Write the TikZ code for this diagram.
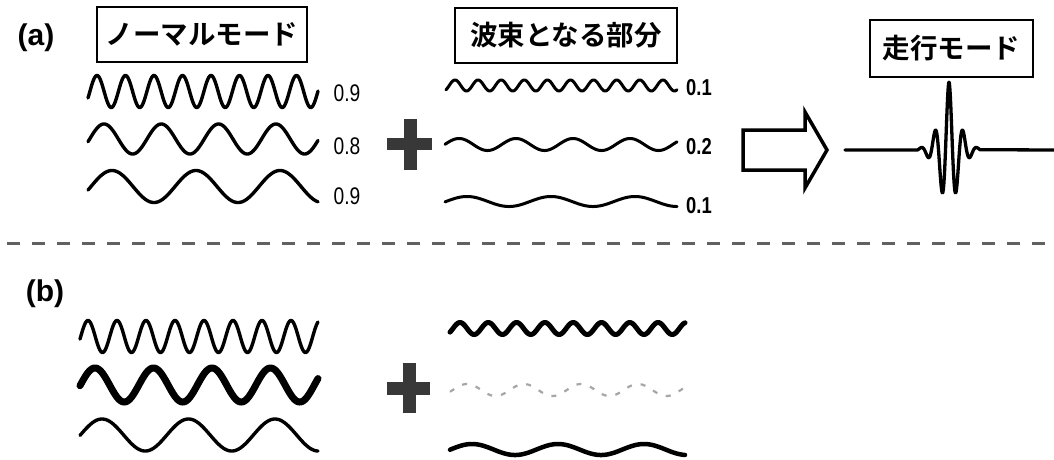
\documentclass[tikz,border=0pt]{standalone}
\usepackage{fontspec}
\setmainfont{Liberation Sans}
\newfontfamily\jpfont{Noto Sans CJK JP Bold}
\newfontfamily\numfont{Liberation Sans}[FakeStretch=0.8]

% sine curve: [style]{x0}{x1}{centre y}{amplitude}{period}{x of a crest}
\newcommand\sinecurve[7][]{%
  \draw[wave,#1] plot[domain=#2:#3, samples=400] (\x,{#4-#5*cos((360/#6)*(\x-#7))});}

\tikzset{
  wave/.style={line width=3.4pt, line cap=round, line join=round},
  thinwave/.style={line width=3pt},
  titlebox/.style={draw, line width=2.6pt, inner sep=0pt,
    font=\jpfont\fontsize{27.5}{27.5}\selectfont},
  panel/.style={font=\bfseries\fontsize{30}{30}\selectfont, inner sep=0pt},
  weight/.style={font=\numfont\fontsize{24}{24}\selectfont, inner sep=0pt},
  weightbold/.style={font=\numfont\bfseries\fontsize{23}{23}\selectfont, inner sep=0pt},
  plusmark/.style={fill=black!78},
}

\begin{document}
\begin{tikzpicture}[x=1pt,y=-1pt]
\useasboundingbox (0,0) rectangle (1054,459);
\fill[white] (0,0) rectangle (1054,459);

% ---------- panel (a) ----------
\node[panel] (la) at (36,38) {(a)};
\node[titlebox, minimum width=210pt, minimum height=55pt] (normal) at (202,34.5) {ノーマルモード};
\node[titlebox, minimum width=222pt, minimum height=55pt] (packet) at (566,35.5) {波束となる部分};
\node[titlebox, minimum width=163pt, minimum height=57pt] (travel) at (951.5,48.5) {走行モード};

% normal modes
\sinecurve{88}{318}{91.5}{16}{28.5}{97}
\sinecurve{88}{318}{139}{15}{57.3}{104}
\sinecurve{88}{318}{186.5}{16}{84}{112}
\node[weight] (wa1) at (347,93.5) {0.9};
\node[weight] (wa2) at (347,146.5) {0.8};
\node[weight] (wa3) at (347,196.5) {0.9};

% plus sign
\fill[plusmark] (387,137.5) rectangle (432,150);
\fill[plusmark] (404,119) rectangle (416.5,170);

% wave-packet components
\sinecurve[thinwave]{446}{677}{85.5}{5.5}{23.1}{455}
\sinecurve[thinwave]{445}{677}{144.5}{6}{57}{459}
\sinecurve[thinwave]{445}{677}{201.5}{5}{84}{467}
\node[weightbold] (pa1) at (699,87.5) {0.1};
\node[weightbold] (pa2) at (699,147) {0.2};
\node[weightbold] (pa3) at (699,205.5) {0.1};

% hollow block arrow
\draw[line width=3.5pt, line join=miter, fill=white]
  (743,130) -- (805,130) -- (805,112) -- (827,150) -- (805,188) -- (805,170) -- (743,170) -- cycle;

% travelling pulse
\draw[line width=3.3pt, line join=round, line cap=round]
  (845,150) -- (918,150) --
  plot[domain=918:980, samples=300]
    (\x,{150-68*exp(-pow(abs(\x-949)/11.8,1.4))*cos((360/14)*(\x-949))})
  -- (1054,150);

% separator
\draw[line width=3.5pt, black!62, dash pattern=on 13pt off 12pt, dash phase=18pt]
  (0,243.3) -- (1054,243.3);

% ---------- panel (b) ----------
\node[panel] (lb) at (45,294) {(b)};

\sinecurve{80}{318}{336.5}{16}{29}{88}
\sinecurve[line width=7pt]{80}{318}{385}{17}{58.5}{95}
\sinecurve{80}{318}{435}{16}{86.5}{102}

\fill[plusmark] (387,382) rectangle (430,395);
\fill[plusmark] (403,363) rectangle (415.5,413);

\sinecurve[line width=5pt]{450}{685}{328.5}{6}{28.3}{460}
\sinecurve[line width=2.2pt, line cap=butt, black!35, dash pattern=on 5pt off 9pt]{450}{685}{390}{6}{57}{467}
\sinecurve[line width=4.5pt]{450}{685}{449.5}{5.5}{86}{472}
\end{tikzpicture}
\end{document}
